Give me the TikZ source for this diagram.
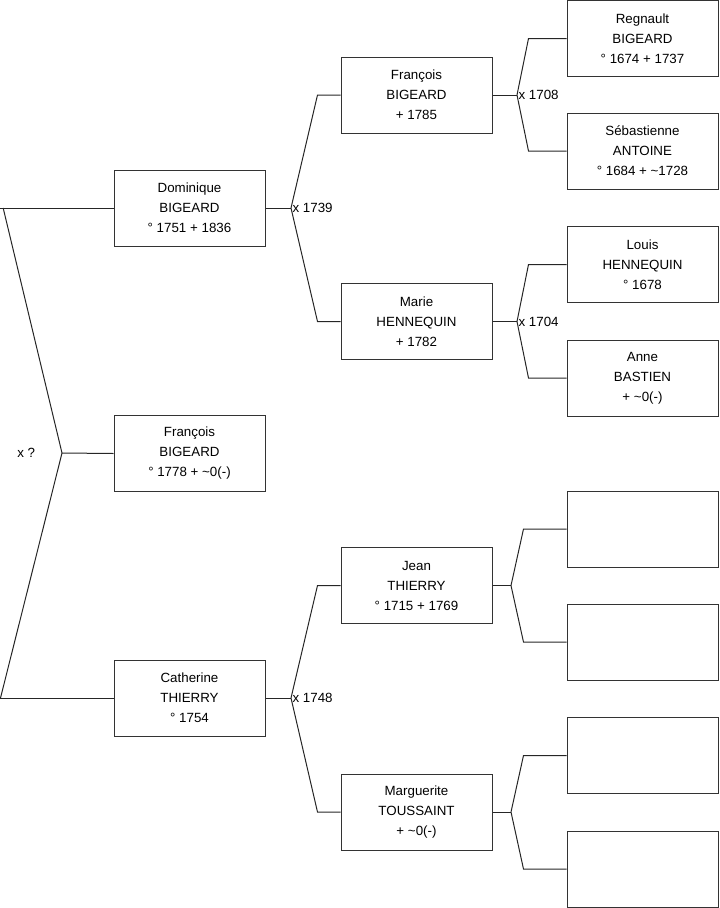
\documentclass[tikz,border=0pt]{standalone}
\usepackage{fontspec}
\setmainfont{Liberation Sans}
\usetikzlibrary{positioning,calc}

\begin{document}
\begin{tikzpicture}[
    x=0.75pt, y=-0.75pt,
    person/.style={rectangle, draw=black!80, line width=0.75pt, minimum width=113.25pt,
                   minimum height=57pt, align=center, inner sep=0pt,
                   font=\fontsize{10}{15}\selectfont},
    link/.style={draw=black!85, line width=0.75pt},
    union/.style={anchor=west, inner sep=1pt, font=\fontsize{10}{11}\selectfont}
  ]
  \useasboundingbox (0,0) rectangle (719,908);

  % Generation 1
  \node[person] (dominique) at (189.5, 208) {Dominique\\BIGEARD\\° 1751 + 1836};
  \node[person] (francois_b) at (189.5, 453.5) {François\\BIGEARD\\° 1778 + \char`\~0(-)};
  \node[person] (catherine) at (189.5, 698) {Catherine\\THIERRY\\° 1754};

  % Generation 2
  \node[person] (francois) at (416.5, 95) {François\\BIGEARD\\+ 1785};
  \node[person] (marie) at (416.5, 321.5) {Marie\\HENNEQUIN\\+ 1782};
  \node[person] (jean) at (416.5, 585.5) {Jean\\THIERRY\\° 1715 + 1769};
  \node[person] (marguerite) at (416.5, 812) {Marguerite\\TOUSSAINT\\+ \char`\~0(-)};

  % Generation 3
  \node[person] (regnault) at (642.5, 38.5) {Regnault\\BIGEARD\\° 1674 + 1737};
  \node[person] (sebastienne) at (642.5, 151) {Sébastienne\\ANTOINE\\° 1684 + \char`\~1728};
  \node[person] (louis) at (642.5, 264.5) {Louis\\HENNEQUIN\\° 1678};
  \node[person] (anne) at (642.5, 378) {Anne\\BASTIEN\\+ \char`\~0(-)};
  \node[person] (empty_a) at (642.5, 529) {};
  \node[person] (empty_b) at (642.5, 642) {};
  \node[person] (empty_c) at (642.5, 755.5) {};
  \node[person] (empty_d) at (642.5, 869) {};

  % Junctions
  \coordinate (jq) at (62, 453);
  \coordinate (dtop) at (0.5, 208);
  \coordinate (cbot) at (0.5, 698);
  \coordinate (j1739) at (291, 208);
  \coordinate (j1748) at (291, 698);
  \coordinate (j1708) at (517, 95);
  \coordinate (j1704) at (517, 321.5);
  \coordinate (jjean) at (511, 585.5);
  \coordinate (jmarg) at (511, 812);

  % Union labels
  \node[union, anchor=east] (uq) at ([xshift=-19pt]jq) {x ?};
  \node[union] (u1739) at (j1739) {x 1739};
  \node[union] (u1748) at (j1748) {x 1748};
  \node[union] (u1708) at (j1708) {x 1708};
  \node[union] (u1704) at (j1704) {x 1704};

  % Left bracket
  \draw[link] (dominique.west) -- (dtop);
  \draw[link] (catherine.west) -- (cbot);
  \draw[link] ([xshift=2pt]dtop) -- (jq) -- (cbot);
  \draw[link] (francois_b.west) -- (jq);

  % Generation 1 to 2
  \draw[link] (dominique.east) -- (j1739);
  \draw[link] (francois.west) -- ++(-23, 0) -- (j1739);
  \draw[link] (marie.west) -- ++(-23, 0) -- (j1739);
  \draw[link] (catherine.east) -- (j1748);
  \draw[link] (jean.west) -- ++(-23, 0) -- (j1748);
  \draw[link] (marguerite.west) -- ++(-23, 0) -- (j1748);

  % Generation 2 to 3
  \draw[link] (francois.east) -- (j1708);
  \draw[link] (regnault.west) -- ++(-38, 0) -- (j1708);
  \draw[link] (sebastienne.west) -- ++(-38, 0) -- (j1708);
  \draw[link] (marie.east) -- (j1704);
  \draw[link] (louis.west) -- ++(-38, 0) -- (j1704);
  \draw[link] (anne.west) -- ++(-38, 0) -- (j1704);
  \draw[link] (jean.east) -- (jjean);
  \draw[link] (empty_a.west) -- ++(-43, 0) -- (jjean);
  \draw[link] (empty_b.west) -- ++(-43, 0) -- (jjean);
  \draw[link] (marguerite.east) -- (jmarg);
  \draw[link] (empty_c.west) -- ++(-43, 0) -- (jmarg);
  \draw[link] (empty_d.west) -- ++(-43, 0) -- (jmarg);

\end{tikzpicture}
\end{document}
